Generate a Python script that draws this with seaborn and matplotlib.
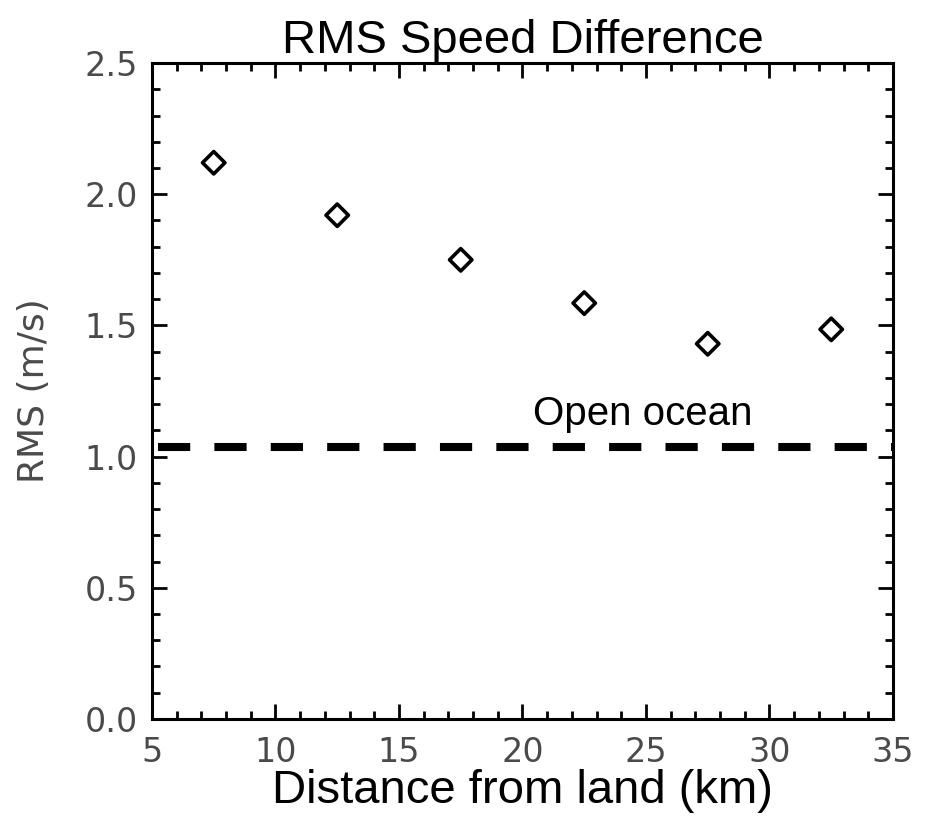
import numpy as np
import pandas as pd
import seaborn as sns
import matplotlib
matplotlib.use("Agg")
import matplotlib.pyplot as plt
from matplotlib.ticker import MultipleLocator, FormatStrFormatter

# data
distance_km = [7.5, 12.5, 17.5, 22.5, 27.5, 32.5]
rms_ms = [2.12, 1.92, 1.75, 1.585, 1.43, 1.485]
open_ocean_rms = 1.035

df = pd.DataFrame({"distance": distance_km, "rms": rms_ms})

sns.set_style("ticks")
plt.rcParams["font.family"] = ["Liberation Sans", "DejaVu Sans"]
plt.rcParams["text.color"] = "black"

fig = plt.figure(figsize=(9.3, 8.36), dpi=100)
ax = fig.add_axes([0.1634, 0.140, 0.7968, 0.7846])

sns.scatterplot(data=df, x="distance", y="rms", marker="D", s=130,
                facecolor="none", edgecolor="black", linewidth=2.6, ax=ax)

# open ocean reference level
ax.plot([5.25, 35], [open_ocean_rms, open_ocean_rms], color="black",
        lw=5.8, dashes=(4.0, 3.0), solid_capstyle="butt", dash_capstyle="butt")
ax.text(24.85, open_ocean_rms + 0.055, "Open ocean", fontsize=29,
        color="black", ha="center", va="bottom")

ax.set_xlim(5, 35)
ax.set_ylim(0, 2.5)
ax.xaxis.set_major_locator(MultipleLocator(5))
ax.xaxis.set_minor_locator(MultipleLocator(1))
ax.yaxis.set_major_locator(MultipleLocator(0.5))
ax.yaxis.set_minor_locator(MultipleLocator(0.1))
ax.yaxis.set_major_formatter(FormatStrFormatter("%.1f"))

ax.tick_params(which="both", direction="in", top=True, right=True,
               color="black", width=2)
ax.tick_params(which="major", length=11, labelsize=24, labelcolor="#4a4a4a")
ax.tick_params(axis="x", which="major", pad=12)
ax.tick_params(axis="y", which="major", pad=10)
ax.tick_params(which="minor", length=6)
for lab in ax.get_xticklabels() + ax.get_yticklabels():
    lab.set_family("DejaVu Sans")
for sp in ax.spines.values():
    sp.set_linewidth(2.2)
    sp.set_color("black")

ax.set_title("RMS Speed Difference", fontsize=34, color="black", pad=7)
ax.set_xlabel("Distance from land (km)", fontsize=34, color="black", labelpad=0)
ax.set_ylabel("RMS (m/s)", fontsize=26, color="#4a4a4a", family="DejaVu Sans",
              labelpad=24)

fig.savefig("out.png", dpi=100)
